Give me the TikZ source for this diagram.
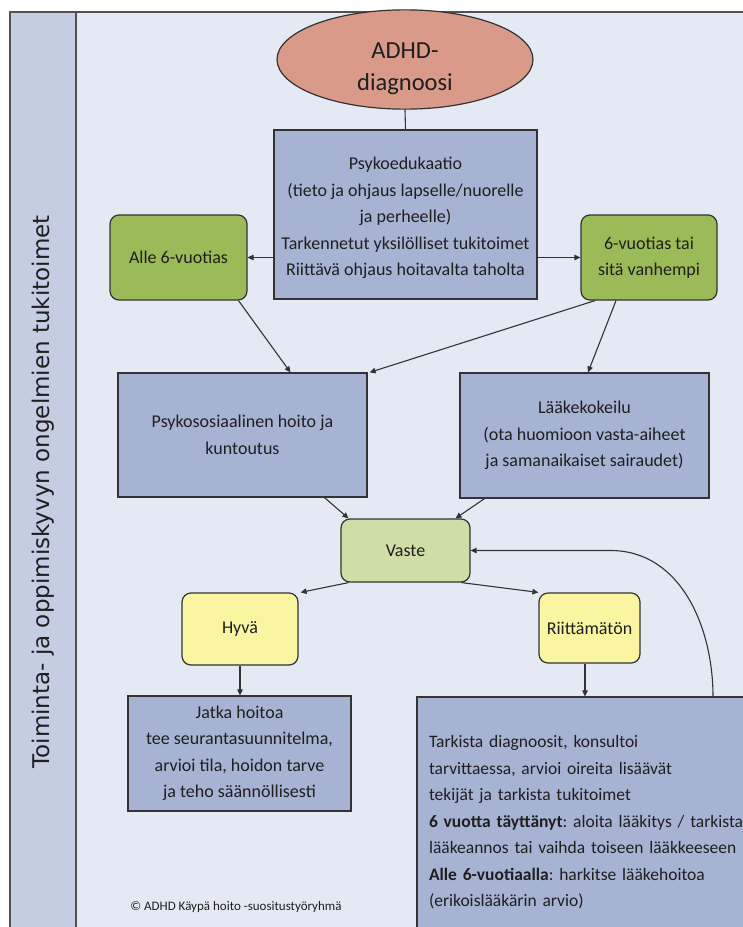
\documentclass[tikz,border=0pt]{standalone}
\usepackage{fontspec}
\setmainfont{Carlito}
\newfontfamily\stripfont{DejaVu Sans}
\usetikzlibrary{arrows.meta,calc,shapes.geometric,positioning}
\frenchspacing

\definecolor{bgmain}{HTML}{E5E9F3}
\definecolor{bgstrip}{HTML}{C5CDE3}
\definecolor{boxblue}{HTML}{A6B3D3}
\definecolor{boxgreen}{HTML}{9BBB59}
\definecolor{boxlime}{HTML}{CFDDA6}
\definecolor{boxyellow}{HTML}{F9F5A0}
\definecolor{boxsalmon}{HTML}{D99A8A}
\definecolor{edgegrey}{HTML}{333333}
\definecolor{textgrey}{HTML}{1F1F1F}

\begin{document}
\begin{tikzpicture}[x=1pt,y=-1pt,
    every node/.style={font=\fontsize{18}{26.5}\selectfont, text=textgrey},
    bluebox/.style={draw=edgegrey, line width=1.2pt, fill=boxblue, align=center, inner sep=0pt},
    greenbox/.style={bluebox, fill=boxgreen, rounded corners=9pt},
    limebox/.style={bluebox, fill=boxlime, rounded corners=9pt},
    yellowbox/.style={bluebox, fill=boxyellow, rounded corners=9pt},
    arr/.style={-{Triangle[length=6pt,width=5.5pt]}, draw=edgegrey, line width=1.1pt}]

    \useasboundingbox (0,0) rectangle (743,927);
    \clip (0,0) rectangle (743,927);

    % frame and side strip
    \fill[white] (0,0) rectangle (743,927);
    \fill[bgmain] (10,12) rectangle (743,927);
    \fill[bgstrip] (10,12) rectangle (76,927);
    \draw[edgegrey!85, line width=2pt] (10,927) -- (10,12) -- (743,12);
    \draw[edgegrey!85, line width=1.6pt] (76,12) -- (76,927);
    \node[rotate=90, font=\stripfont\fontsize{23}{26}\selectfont] (strip) at (43,492)
        {Toiminta- ja oppimiskyvyn ongelmien tukitoimet};

    % boxes
    \node[ellipse, draw=edgegrey, line width=1.2pt, fill=boxsalmon, align=center,
        minimum width=256pt, minimum height=92pt, inner sep=0pt,
        font=\fontsize{24.5}{32}\selectfont] (diag) at (405,59.5) {\mbox{}\\[2pt]ADHD-\\diagnoosi};
    \node[bluebox, minimum width=263pt, minimum height=169pt] (psyedu) at (405.5,214.5)
        {\mbox{}\\[-6.5pt]Psykoedukaatio\\(tieto ja ohjaus lapselle/nuorelle\\ja perheelle)\\
         Tarkennetut yksilölliset tukitoimet\\Riittävä ohjaus hoitavalta taholta};
    \node[greenbox, minimum width=137pt, minimum height=85pt] (alle) at (178.5,257.5) {Alle 6-vuotias};
    \node[greenbox, minimum width=136pt, minimum height=85pt] (vanh) at (649,257.5) {6-vuotias tai\\sitä vanhempi};
    \node[bluebox, minimum width=249pt, minimum height=124pt] (psysos) at (242.5,435)
        {Psykososiaalinen hoito ja\\kuntoutus};
    \node[bluebox, minimum width=249pt, minimum height=125pt] (laake) at (584.5,435.5)
        {Lääkekokeilu\\(ota huomioon vasta-aiheet\\ja samanaikaiset sairaudet)};
    \node[limebox, minimum width=129pt, minimum height=63pt] (vaste) at (405.5,550.5) {Vaste};
    \node[yellowbox, minimum width=116pt, minimum height=72pt] (hyva) at (240,629) {Hyvä};
    \node[yellowbox, minimum width=101pt, minimum height=70pt] (riitta) at (589.5,628) {Riittämätön};
    \node[bluebox, minimum width=223pt, minimum height=115pt] (jatka) at (239.5,753.5)
        {Jatka hoitoa\\tee seurantasuunnitelma,\\arvioi tila, hoidon tarve\\ja teho säännöllisesti};
    \node[bluebox, align=left, text width=353pt, inner xsep=12pt,
        minimum width=377pt, minimum height=251pt,
        font=\fontsize{17.5}{26.5}\selectfont] (tark) at (605.5,822.5)
        {Tarkista diagnoosit, konsultoi\\
         tarvittaessa, arvioi oireita lisäävät\\
         tekijät ja tarkista tukitoimet\\
         \textbf{6 vuotta täyttänyt}: aloita lääkitys / tarkista\\
         lääkeannos tai vaihda toiseen lääkkeeseen\\
         \textbf{Alle 6-vuotiaalla}: harkitse lääkehoitoa\\
         (erikoislääkärin arvio)};

    \node[font=\fontsize{13}{15}\selectfont] (copy) at (236,907) {© ADHD Käypä hoito -suositustyöryhmä};

    % connectors
    \draw[draw=edgegrey, line width=1.1pt] (diag.south) -- (psyedu.north);
    \draw[arr] (psyedu.west |- alle) -- (alle.east);
    \draw[arr] (psyedu.east |- vanh) -- (vanh.west);
    \draw[arr] ([xshift=60pt]alle.south) -- ([xshift=48pt]psysos.north);
    \draw[arr] ([xshift=-54pt]vanh.south) -- ([xshift=2pt]psysos.north east);
    \draw[arr] ([xshift=-33pt]vanh.south) -- ([xshift=3.5pt]laake.north);
    \draw[arr] ([xshift=82pt]psysos.south) -- ([xshift=-57pt]vaste.north);
    \draw[arr] ([xshift=-100pt]laake.south) -- ([xshift=50pt]vaste.north);
    \draw[arr] ([xshift=-57pt]vaste.south) -- ([xshift=2pt]hyva.north east);
    \draw[arr] ([xshift=56pt]vaste.south) -- (riitta.north west);
    \draw[arr] (hyva.south) -- (hyva.south |- jatka.north);
    \draw[arr] ([xshift=-4.5pt]riitta.south) -- ([xshift=-4.5pt]riitta.south |- tark.north);
    \draw[arr] ([xshift=107.5pt]tark.north) to[out=90,in=0] ($(vaste.east)+(140,0)$) -- (vaste.east);
\end{tikzpicture}
\end{document}
